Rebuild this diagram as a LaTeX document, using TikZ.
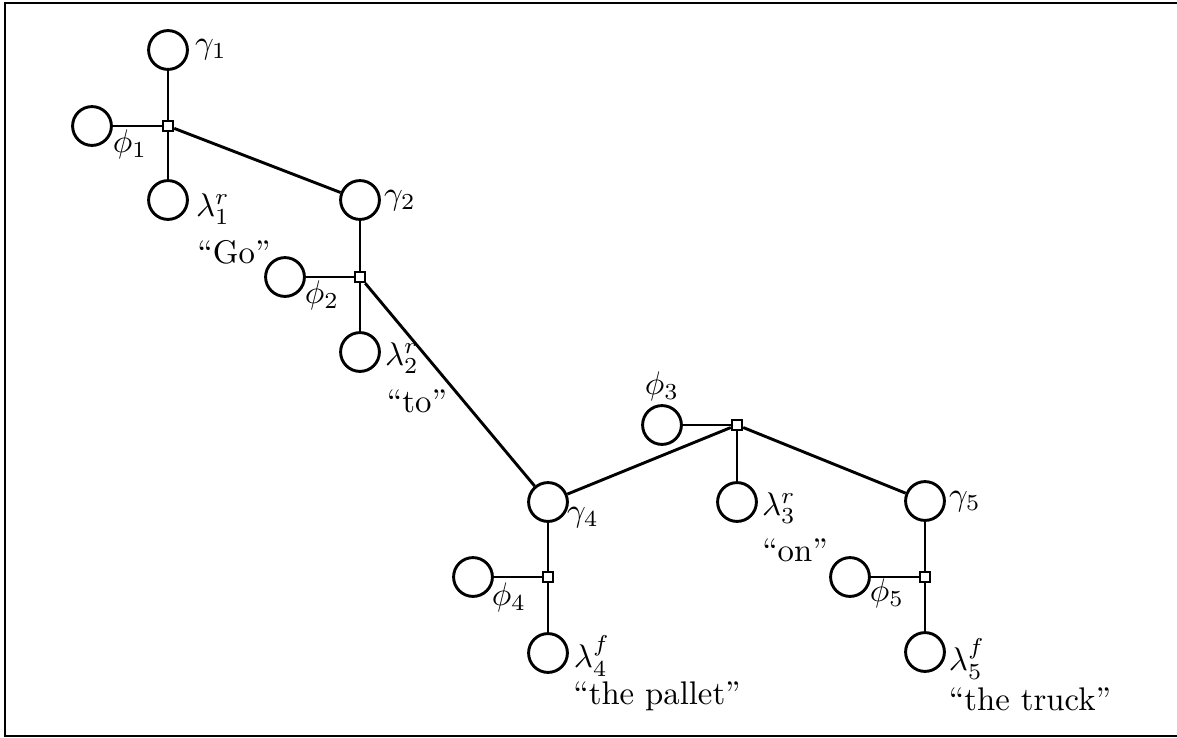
\documentclass[tikz,border=0pt]{standalone}
\usetikzlibrary{positioning}

\begin{document}
\begin{tikzpicture}[x=0.345pt, y=-0.345pt,
    varnode/.style={draw, circle, line width=1pt, inner sep=0pt, minimum size=13.4pt},
    factor/.style={draw, rectangle, line width=0.9pt, fill=white, inner sep=0pt, minimum size=3.4pt},
    edge/.style={line width=1pt},
    phiedge/.style={line width=0.8pt},
    txt/.style={inner sep=0pt, scale=1.13, transform shape}]
  \useasboundingbox (0,0) rectangle (1177,738);
  % Frame (no right side)
  \draw[line width=0.9pt] (1177,3) -- (5,3) -- (5,736) -- (1177,736);

  % Variables
  \node[varnode] (g1) at (168,50) {};
  \node[varnode] (p1) at (92,126) {};
  \node[varnode] (l1) at (168,200) {};
  \node[varnode] (g2) at (360,200) {};
  \node[varnode] (p2) at (285,277) {};
  \node[varnode] (l2) at (360,352) {};
  \node[varnode] (p3) at (662,425) {};
  \node[varnode] (l3) at (737,502) {};
  \node[varnode] (g4) at (548,502) {};
  \node[varnode] (p4) at (473,577) {};
  \node[varnode] (l4) at (548,653) {};
  \node[varnode] (g5) at (925,501) {};
  \node[varnode] (p5) at (850,577) {};
  \node[varnode] (l5) at (925,652) {};

  % Factors
  \node[factor] (f1) at (168,126) {};
  \node[factor] (f2) at (360,277) {};
  \node[factor] (f3) at (737,425) {};
  \node[factor] (f4) at (548,577) {};
  \node[factor] (f5) at (925,577) {};

  % Edges
  \draw[edge] (f1) -- (g1); \draw[edge] (f1) -- (l1); \draw[phiedge] (f1) -- (p1); \draw[edge] (f1) -- (g2);
  \draw[edge] (f2) -- (g2); \draw[edge] (f2) -- (l2); \draw[phiedge] (f2) -- (p2); \draw[edge] (f2) -- (g4);
  \draw[edge] (f3) -- (g4); \draw[edge] (f3) -- (l3); \draw[phiedge] (f3) -- (p3); \draw[edge] (f3) -- (g5);
  \draw[edge] (f4) -- (g4); \draw[edge] (f4) -- (l4); \draw[phiedge] (f4) -- (p4);
  \draw[edge] (f5) -- (g5); \draw[edge] (f5) -- (l5); \draw[phiedge] (f5) -- (p5);

  % Labels
  \node[txt] (tg1) at (211,50) {$\gamma_1$};
  \node[txt] (tg2) at (400,201) {$\gamma_2$};
  \node[txt] (tg4) at (583,518) {$\gamma_4$};
  \node[txt] (tg5) at (965,502) {$\gamma_5$};
  \node[txt] (tp1) at (130,144) {$\phi_1$};
  \node[txt] (tp2) at (322,295) {$\phi_2$};
  \node[txt] (tp3) at (662,386) {$\phi_3$};
  \node[txt] (tp4) at (509,597) {$\phi_4$};
  \node[txt] (tp5) at (887,593) {$\phi_5$};
  \node[txt] (tl1) at (213,209) {$\lambda_1^r$};
  \node[txt] (tl2) at (402,358) {$\lambda_2^r$};
  \node[txt] (tl3) at (779,508) {$\lambda_3^r$};
  \node[txt] (tl4) at (592,656) {$\lambda_4^f$};
  \node[txt] (tl5) at (967,659) {$\lambda_5^f$};
  \node[txt] (w1) at (234,252) {``Go''};
  \node[txt] (w2) at (417,401) {``to''};
  \node[txt] (w3) at (795,550) {``on''};
  \node[txt] (w4) at (657,696) {``the pallet''};
  \node[txt] (w5) at (1030,699) {``the truck''};
\end{tikzpicture}
\end{document}
